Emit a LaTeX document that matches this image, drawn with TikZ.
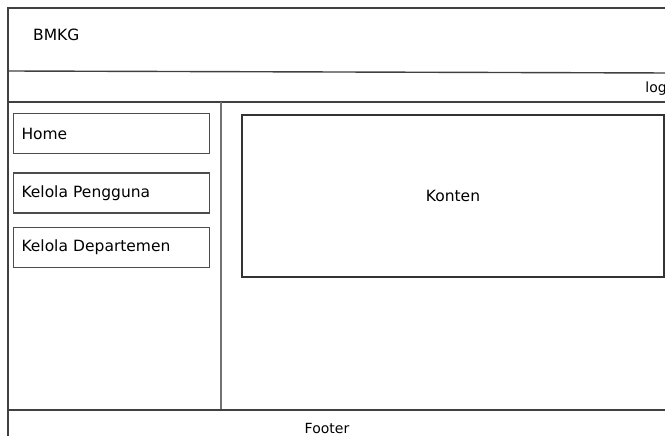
\documentclass[tikz,border=0pt]{standalone}
\usepackage{fontspec}
\setmainfont{DejaVu Sans}
\usetikzlibrary{positioning}
\tikzset{
	frameline/.style={draw=black!75,line width=1.4pt},
	menubtn/.style={draw=black!70,line width=1.4pt,text width=180pt,inner xsep=8pt,minimum height=40pt,align=left,font=\fontsize{15.5}{17}\selectfont},
	label/.style={font=\fontsize{15.5}{17}\selectfont,inner sep=0pt}
}
\begin{document}
\begin{tikzpicture}[x=1pt,y=-1pt]
	\useasboundingbox (0,0) rectangle (665,436);
	\clip (0,0) rectangle (665,436);
	% page frame
	\draw[frameline] (8,440) -- (8,8) -- (670,8);
	\draw[frameline] (8,71) -- (670,73);
	\draw[frameline] (8,102) -- (670,102);
	\draw[frameline,draw=black!55] (221,102) -- (221,410);
	\draw[frameline] (8,410) -- (670,410);
	\node[label,anchor=west] (brand) at (33,35) {BMKG};
	\node[label,font=\fontsize{14}{16}\selectfont,anchor=base east] (login) at (667,93) {log};
	% menu
	\node[menubtn] (home) at (111.5,133.5) {Home};
	\node[menubtn,below=18pt of home] (pengguna) {Kelola Pengguna};
	\node[menubtn,below=13pt of pengguna] (departemen) {Kelola Departemen};
	% content
	\node[draw=black!80,line width=1.3pt,minimum width=422pt,minimum height=162pt,label] (konten) at (453,196) {Konten};
	\node[label,font=\fontsize{14}{16}\selectfont] (footer) at (327,428) {Footer};
\end{tikzpicture}
\end{document}
